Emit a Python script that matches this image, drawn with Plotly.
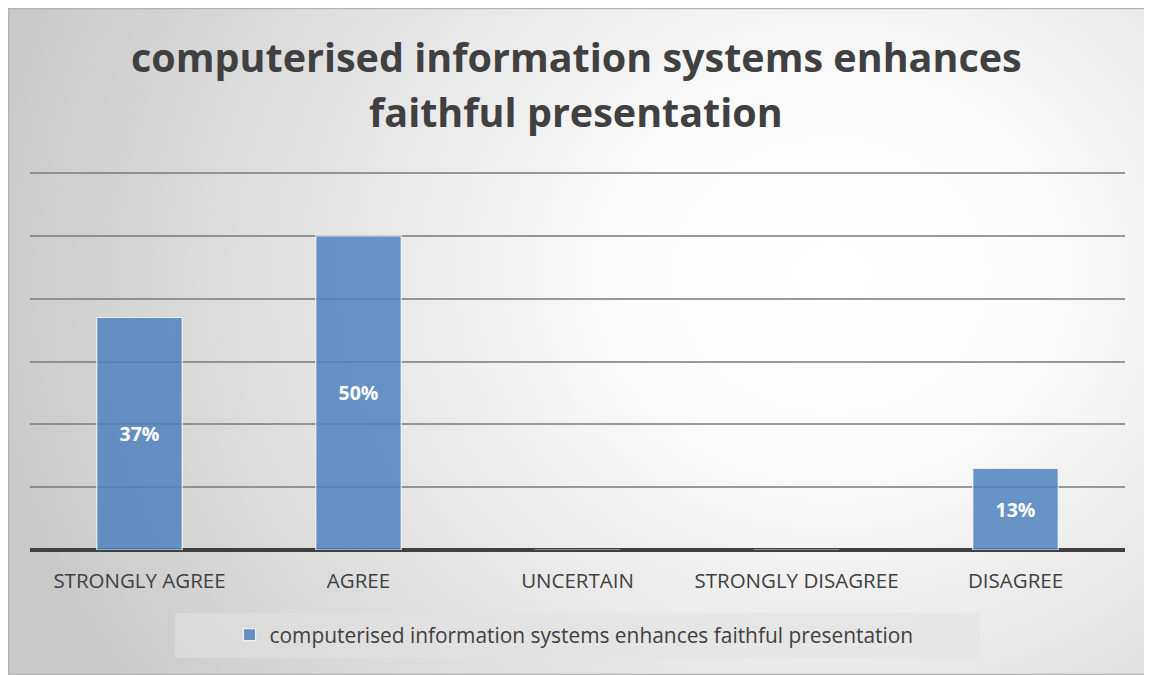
import base64
import plotly.graph_objects as go

categories = ["STRONGLY AGREE", "AGREE", "UNCERTAIN", "STRONGLY DISAGREE", "DISAGREE"]
values = [37, 50, 0, 0, 13]
labels = ["37%", "50%", "", "", "13%"]
series_name = "computerised information systems enhances faithful presentation"
title_lines = ["computerised information systems enhances", "faithful presentation"]
y_ticks = [0, 10, 20, 30, 40, 50, 60]

# figure is placed by the page at an 8px body offset
W, H = 1144, 667
L, R, T, B = 22, 27, 158, 125
pw, ph = W - L - R, H - T - B
ymax = 60 * ph / 377.0

def px_y(fy):
    return (T + ph - fy) / ph

def px_x(fx):
    return (fx - L) / pw

svg = f'''<svg xmlns="http://www.w3.org/2000/svg" width="{W}" height="{H}" viewBox="0 0 {W} {H}" preserveAspectRatio="none">
<defs><radialGradient id="g" cx="0.72" cy="0.40" r="0.75" gradientUnits="objectBoundingBox" gradientTransform="translate(0.72 0.40) scale(1 1.5) translate(-0.72 -0.40)">
<stop offset="0" stop-color="#ffffff"/><stop offset="0.25" stop-color="#fbfbfb"/><stop offset="1" stop-color="#c9c9c9"/></radialGradient></defs>
<rect x="0" y="0" width="{W}" height="{H}" fill="url(#g)"/>
<rect x="0.5" y="0.5" width="{W-1}" height="{H-1}" fill="none" stroke="#b4b4b4" stroke-width="1.5"/>
</svg>'''
src = "data:image/svg+xml;base64," + base64.b64encode(svg.encode()).decode()

fig = go.Figure()
fig.add_trace(go.Bar(
    x=categories, y=values, name=series_name,
    text=labels, textposition="inside", insidetextanchor="middle",
    textfont=dict(family="Open Sans", size=19.5, color="white", weight="bold"),
    marker=dict(color="rgba(79,129,189,0.85)", line=dict(color="rgba(255,255,255,0.8)", width=1.2)),
    showlegend=True,
))

fig.add_layout_image(dict(
    source=src, xref="paper", yref="paper",
    x=-L / pw, y=1 + T / ph, sizex=W / pw, sizey=H / ph,
    xanchor="left", yanchor="top", sizing="stretch", layer="below",
))

# legend background box
fig.add_shape(type="rect", xref="paper", yref="paper",
              x0=px_x(167), x1=px_x(972), y0=px_y(605), y1=px_y(650),
              fillcolor="rgba(225,225,225,0.55)", line=dict(width=0), layer="below")

# title (two centred lines)
for txt, fy in zip(title_lines, [49, 104]):
    fig.add_annotation(text=txt, xref="paper", yref="paper", x=px_x(568), y=px_y(fy),
                       xanchor="center", yanchor="middle", showarrow=False,
                       font=dict(family="Open Sans", size=39.5, color="#404040", weight="bold"))

fig.update_layout(
    width=W, height=H,
    margin=dict(l=L, r=R, t=T, b=B),
    paper_bgcolor="rgba(0,0,0,0)", plot_bgcolor="rgba(0,0,0,0)",
    bargap=0.61,
    font=dict(family="Open Sans", color="#404040"),
    legend=dict(orientation="h", x=px_x(566), xanchor="center", y=px_y(627), yanchor="middle",
                bgcolor="rgba(0,0,0,0)", font=dict(size=20.9, color="#404040")),
    xaxis=dict(showgrid=False, ticks="", tickfont=dict(size=20.5, color="#404040"), showline=False,
               ticklabelstandoff=16),
    yaxis=dict(range=[0, ymax], tickvals=y_ticks, showticklabels=False, showgrid=True,
               gridcolor="rgba(120,120,120,0.75)", gridwidth=1.5,
               zeroline=True, zerolinecolor="#404040", zerolinewidth=4),
)

fig.write_html("out.html")
